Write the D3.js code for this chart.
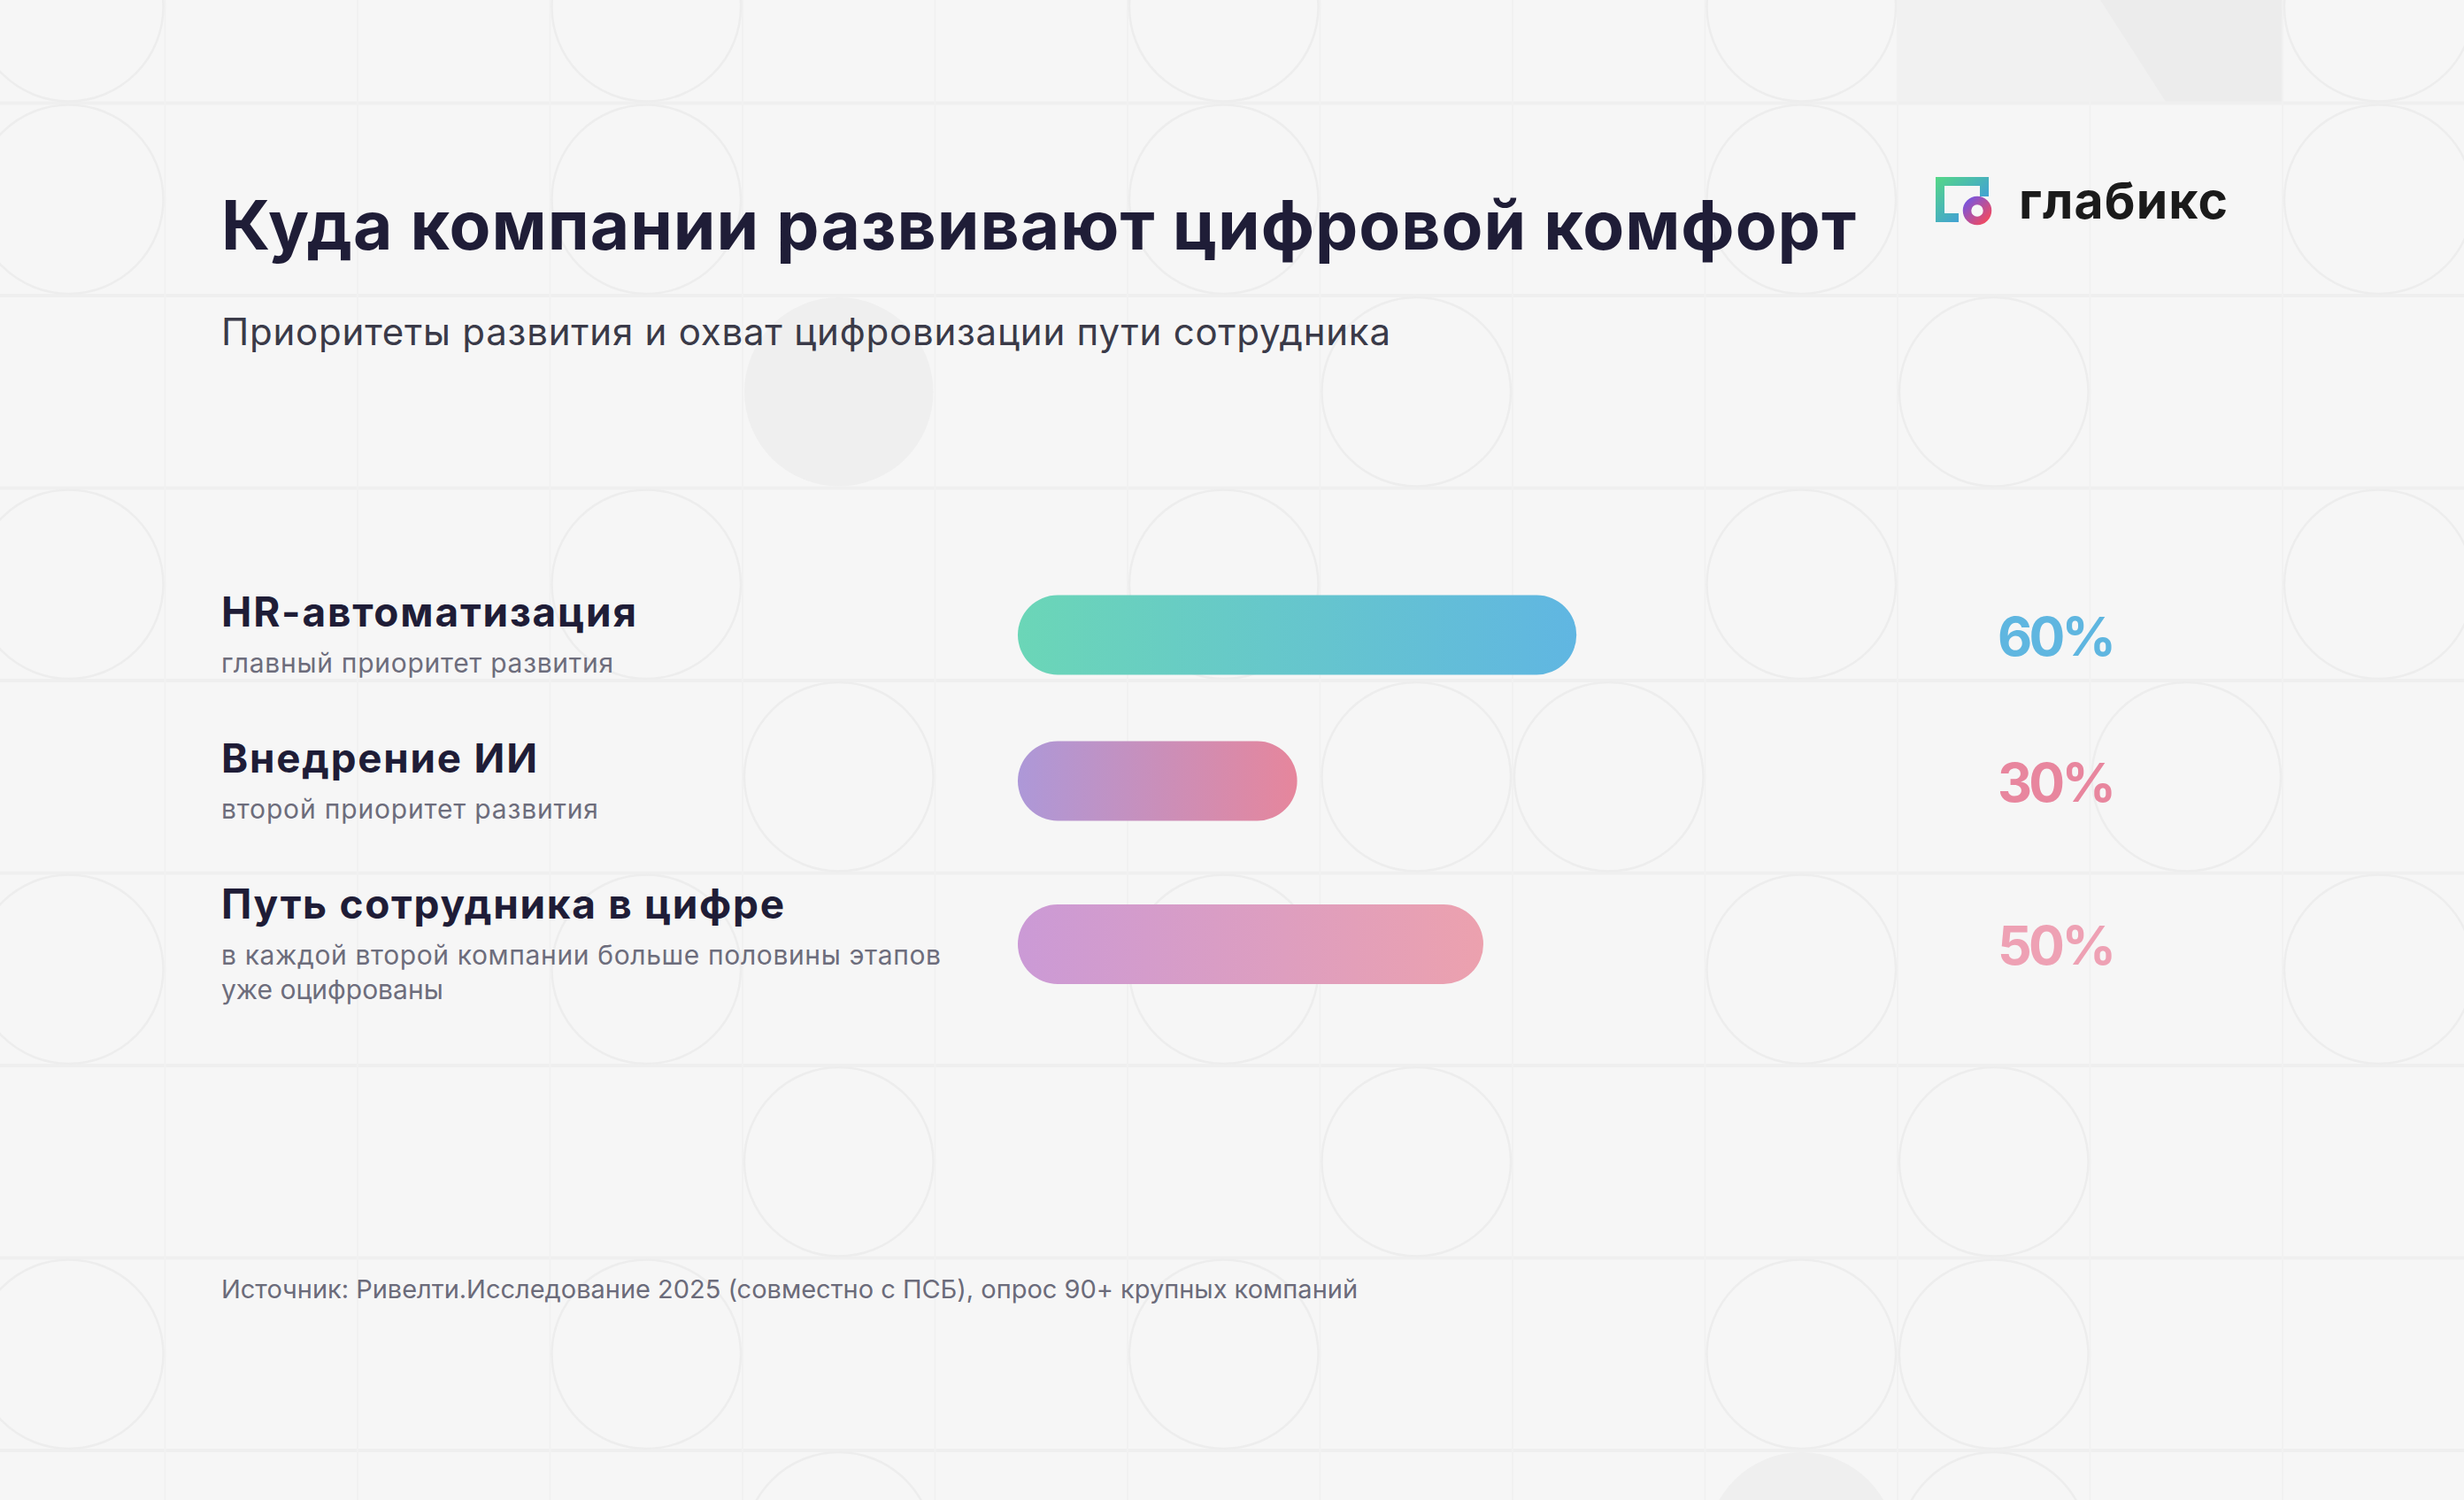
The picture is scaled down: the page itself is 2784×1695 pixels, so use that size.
<!DOCTYPE html>
<html>
<head>
<meta charset="utf-8">
<script src="https://cdn.jsdelivr.net/npm/d3@7"></script>
<style>
  html, body { margin: 0; padding: 0; background: #f6f6f6; }
  svg { display: block; }
</style>
</head>
<body>
<svg id="chart" width="2784" height="1695"></svg>
<script>
// ---------------- DATA ----------------
const categories = ["HR-автоматизация", "Внедрение ИИ", "Путь сотрудника в цифре"];
const values = [60, 30, 50];
const valueLabels = ["60%", "30%", "50%"];
const descriptions = [
  ["главный приоритет развития"],
  ["второй приоритет развития"],
  ["в каждой второй компании больше половины этапов", "уже оцифрованы"]
];
const barGradients = [["#6bd6b7", "#60b6e2"], ["#ad98d8", "#e6869c"], ["#cb9ad6", "#eca1ae"]];
const valueColors = ["#5fb6e0", "#e8869e", "#eea1b4"];
const titleText = "Куда компании развивают цифровой комфорт";
const subtitleText = "Приоритеты развития и охват цифровизации пути сотрудника";
const sourceText = "Источник: Ривелти.Исследование 2025 (совместно с ПСБ), опрос 90+ крупных компаний";
const brandText = "глабикс";

// background decoration: [row, col] of outlined circles, filled circles
const bgCircles = [
  [0,0],[0,3],[0,6],[0,9],[0,12],
  [1,0],[1,3],[1,6],[1,9],[1,12],
  [2,7],[2,10],
  [3,0],[3,3],[3,6],[3,9],[3,12],
  [4,4],[4,7],[4,8],[4,11],
  [5,0],[5,3],[5,6],[5,9],[5,12],
  [6,4],[6,7],[6,10],
  [7,0],[7,3],[7,6],[7,9],[7,10],
  [8,4],[8,10]
];
const bgFilled = [[2,4],[8,9]];

(function () {
// ---------------- LAYOUT ----------------
const W = 2784, H = 1695;
const FONT = "Inter, 'Noto Sans', sans-serif";
const svg = d3.select("#chart");
const defs = svg.append("defs");

svg.append("rect").attr("width", W).attr("height", H).attr("fill", "#f6f6f6");

// background grid
const cell = 217.5, gx0 = -31, gy0 = -101;
const bg = svg.append("g");
bg.append("rect").attr("x", gx0 + cell * 10).attr("y", 0).attr("width", cell * 2).attr("height", gy0 + cell)
  .attr("fill", "#f1f1f1");
bg.append("path")
  .attr("d", `M2373,0 L${gx0 + cell * 12},0 L${gx0 + cell * 12},${gy0 + cell} L2448,${gy0 + cell} Z`)
  .attr("fill", "#ececec");
d3.range(0, 9).forEach(r => {
  bg.append("line").attr("x1", 0).attr("x2", W).attr("y1", gy0 + cell * r).attr("y2", gy0 + cell * r)
    .attr("stroke", "#efefef").attr("stroke-width", 4);
});
d3.range(1, 13).forEach(c => {
  bg.append("line").attr("y1", 0).attr("y2", H).attr("x1", gx0 + cell * c).attr("x2", gx0 + cell * c)
    .attr("stroke", "#f1f1f1").attr("stroke-width", 2);
});
bg.selectAll("circle.f").data(bgFilled).join("circle").attr("class", "f")
  .attr("cx", d => gx0 + cell * d[1] + cell / 2).attr("cy", d => gy0 + cell * d[0] + cell / 2)
  .attr("r", cell / 2 - 2).attr("fill", "#efefef");
bg.selectAll("circle.o").data(bgCircles).join("circle").attr("class", "o")
  .attr("cx", d => gx0 + cell * d[1] + cell / 2).attr("cy", d => gy0 + cell * d[0] + cell / 2)
  .attr("r", cell / 2 - 2).attr("fill", "none").attr("stroke", "#ededed").attr("stroke-width", 2.5);

// fit width: scale font-size by part of the ratio, remainder via letter-spacing
function fit(sel, target, sizeShare) {
  sel.each(function () {
    const t = d3.select(this);
    const share = sizeShare == null ? 0 : sizeShare;
    let w = this.getComputedTextLength();
    if (share > 0) {
      const fs = +t.attr("font-size");
      t.attr("font-size", (fs * Math.pow(target / w, share)).toFixed(2));
      w = this.getComputedTextLength();
    }
    const n = this.getNumberOfChars();
    if (n > 1) t.attr("letter-spacing", ((target - w) / (n - 1)).toFixed(3));
  });
}

const LX = 250;
svg.append("text").attr("x", LX).attr("y", 282).attr("font-family", FONT).attr("font-weight", 700)
  .attr("font-size", 75).attr("fill", "#1f1d37").text(titleText).call(fit, 1847, 0.5);
svg.append("text").attr("x", LX).attr("y", 390).attr("font-family", FONT).attr("font-weight", 400)
  .attr("font-size", 39).attr("fill", "#3a3a48").text(subtitleText).call(fit, 1321, 0.7);

// logo
const lg = defs.append("linearGradient").attr("id", "logoFrame").attr("x1", "0%").attr("y1", "0%").attr("x2", "100%").attr("y2", "100%");
lg.append("stop").attr("offset", "0%").attr("stop-color", "#55d886");
lg.append("stop").attr("offset", "100%").attr("stop-color", "#3b8cf2");
const rgr = defs.append("linearGradient").attr("id", "logoRing").attr("x1", "0%").attr("y1", "0%").attr("x2", "100%").attr("y2", "100%");
rgr.append("stop").attr("offset", "0%").attr("stop-color", "#7a56dc");
rgr.append("stop").attr("offset", "100%").attr("stop-color", "#f04a62");
const logo = svg.append("g");
logo.append("path")
  .attr("d", "M2187,200 H2247 V222 H2237 V210 H2197 V241 H2213 V251 H2187 Z")
  .attr("fill", "url(#logoFrame)");
logo.append("circle").attr("cx", 2234).attr("cy", 238).attr("r", 11.5)
  .attr("fill", "none").attr("stroke", "url(#logoRing)").attr("stroke-width", 9.5);
svg.append("text").attr("x", 2281).attr("y", 247).attr("font-family", FONT).attr("font-weight", 700)
  .attr("font-size", 57).attr("fill", "#1b1b1b").text(brandText).call(fit, 236);

// rows
const x = d3.scaleLinear().domain([0, 100]).range([0, 1052]);
const BAR_X = 1150, BAR_H = 90;
const TITLE_CAP = 31, SUB_OFF = 52, SUB_LH = 39, GAP = 74;
let yCursor = 677;
const rows = categories.map((c, i) => {
  const base = yCursor + TITLE_CAP;
  const subBases = descriptions[i].map((_, j) => base + SUB_OFF + j * SUB_LH);
  const bottom = subBases[subBases.length - 1] + 8;
  const center = (yCursor + bottom) / 2 - 5;
  const r = { name: c, value: values[i], label: valueLabels[i], desc: descriptions[i], base, subBases, center, i };
  yCursor = bottom + GAP;
  return r;
});

rows.forEach(r => {
  const g = defs.append("linearGradient").attr("id", "bar" + r.i).attr("x1", "0%").attr("x2", "100%").attr("y1", "0%").attr("y2", "0%");
  g.append("stop").attr("offset", "0%").attr("stop-color", barGradients[r.i][0]);
  g.append("stop").attr("offset", "100%").attr("stop-color", barGradients[r.i][1]);
});

const titleWidths = [469, 357, 636];
const subWidths = [[443], [426], [813, 0]];

const body = svg.append("g");
body.selectAll("text.cat").data(rows).join("text").attr("class", "cat")
  .attr("x", LX).attr("y", d => d.base).attr("font-family", FONT).attr("font-weight", 700)
  .attr("font-size", 42).attr("fill", "#1f1d37").text(d => d.name)
  .each(function (d) { fit(d3.select(this), titleWidths[d.i], 0.6); });

rows.forEach(r => {
  r.desc.forEach((line, j) => {
    const t = body.append("text").attr("x", LX).attr("y", r.subBases[j]).attr("font-family", FONT)
      .attr("font-weight", 400).attr("font-size", 30).attr("fill", "#6d6d7c").text(line);
    if (subWidths[r.i][j]) t.call(fit, subWidths[r.i][j]);
  });
});

body.selectAll("rect.bar").data(rows).join("rect").attr("class", "bar")
  .attr("x", BAR_X).attr("y", d => d.center - BAR_H / 2)
  .attr("width", d => x(d.value)).attr("height", BAR_H)
  .attr("rx", BAR_H / 2).attr("ry", BAR_H / 2)
  .attr("fill", d => `url(#bar${d.i})`);

body.selectAll("text.val").data(rows).join("text").attr("class", "val")
  .attr("x", 2257).attr("y", d => d.center + 23)
  .attr("font-family", FONT).attr("font-weight", 700).attr("font-size", 64)
  .attr("fill", d => valueColors[d.i]).text(d => d.label)
  .each(function () { fit(d3.select(this), 134, 0.5); });

svg.append("text").attr("x", LX).attr("y", 1467).attr("font-family", FONT).attr("font-weight", 400)
  .attr("font-size", 29).attr("fill", "#6b6b7a").text(sourceText).call(fit, 1284);
})();
</script>
</body>
</html>
